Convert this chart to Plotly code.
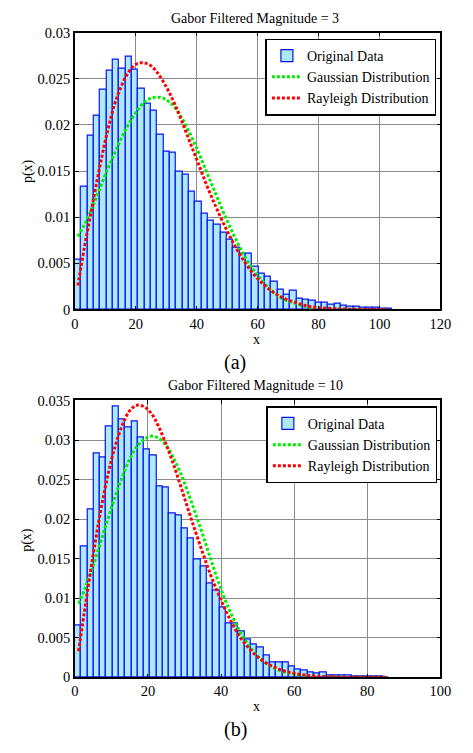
import plotly.graph_objects as go

# ---------------- data: panel (a) ----------------
bars_a = [0.00544, 0.01328, 0.01887, 0.02096, 0.02382, 0.0259, 0.02706, 0.02615, 0.02742, 0.02604,
          0.02392, 0.0223, 0.02155, 0.01894, 0.0171, 0.0170, 0.01498, 0.01456, 0.01276, 0.01166,
          0.01035, 0.00958, 0.00915, 0.00834, 0.00756, 0.00668, 0.00601, 0.00608, 0.00463, 0.00385,
          0.0036, 0.00304, 0.00219, 0.00156, 0.00201, 0.00113, 0.00103, 0.00092, 0.00078, 0.00078,
          0.00049, 0.00064, 0.00042, 0.00028, 0.00028, 0.00021, 0.0002, 0.00015, 0.0001, 0.00008]
bin_a = 2.08

gx_a = [1, 3, 5, 7, 9, 11, 13, 15, 17, 19, 21, 23, 25, 27, 29, 31, 33, 35, 37, 39, 41, 43, 45, 47,
        50, 53, 56, 59, 62, 65, 68, 72, 76, 80, 86, 94, 103]
gy_a = [0.0079, 0.0091, 0.0105, 0.0121, 0.0138, 0.0154, 0.0169, 0.0184, 0.0197, 0.0208, 0.0218,
        0.0225, 0.0229, 0.0230, 0.0229, 0.0225, 0.0218, 0.0208, 0.0196, 0.0182, 0.0167, 0.0151,
        0.0135, 0.0119, 0.0096, 0.0075, 0.0056, 0.0041, 0.0029, 0.0019, 0.0012, 0.0007, 0.0003,
        0.00015, 0.00004, 0.00001, 0.0]

rx_a = [1, 3, 5, 7, 9, 11, 13, 15, 17, 19, 21, 23, 25, 27, 29, 31, 33, 35, 37, 39, 41, 43, 45, 47,
        50, 53, 56, 59, 62, 65, 68, 72, 76, 80, 85, 90, 96, 103]
ry_a = [0.0026, 0.0065, 0.0100, 0.0135, 0.0168, 0.0197, 0.0222, 0.0240, 0.0254, 0.0263, 0.0267,
        0.0267, 0.0264, 0.0257, 0.0247, 0.0235, 0.0221, 0.0205, 0.0188, 0.0171, 0.0154, 0.0137,
        0.0121, 0.0106, 0.0085, 0.0066, 0.0050, 0.0037, 0.0027, 0.0019, 0.0013, 0.0008, 0.0004,
        0.0002, 0.0001, 0.00003, 0.00001, 0.0]

# ---------------- data: panel (b) ----------------
bars_b = [0.00655, 0.01657, 0.02119, 0.02824, 0.02779, 0.0317, 0.03422, 0.03265, 0.03162, 0.03232,
          0.03026, 0.02886, 0.02811, 0.02415, 0.02395, 0.0207, 0.0205, 0.01884, 0.01752, 0.01492,
          0.01397, 0.01183, 0.01101, 0.00882, 0.0068, 0.0068, 0.00577, 0.00474, 0.00412, 0.00375,
          0.00276, 0.00194, 0.00182, 0.00194, 0.0014, 0.00103, 0.00083, 0.00062, 0.0005, 0.00062,
          0.00029, 0.00029, 0.00025, 0.0002, 0.00017, 0.00014, 0.0001, 0.00008, 0.00006, 0.00004]
bin_b = 1.72

gx_b = [1, 3, 5, 7, 9, 11, 13, 15, 17, 19, 21, 23, 25, 27, 29, 31, 33, 35, 37, 39, 41, 43, 45, 47,
        49, 51, 54, 57, 60, 64, 68, 74, 80, 85]
gy_b = [0.0093, 0.0115, 0.0141, 0.0170, 0.0200, 0.0228, 0.0254, 0.0276, 0.0292, 0.0301, 0.0305,
        0.0302, 0.0293, 0.0277, 0.0257, 0.0233, 0.0207, 0.0180, 0.0152, 0.0124, 0.0099, 0.0078,
        0.0059, 0.0044, 0.0032, 0.0022, 0.0013, 0.0007, 0.0004, 0.00015, 0.00005, 0.00001, 0.0, 0.0]

rx_b = [1, 3, 5, 7, 9, 11, 13, 15, 17, 19, 21, 23, 25, 27, 29, 31, 33, 35, 37, 39, 41, 43, 45, 47,
        49, 52, 55, 58, 62, 66, 72, 78, 85]
ry_b = [0.0033, 0.0095, 0.0155, 0.0209, 0.0255, 0.0292, 0.0319, 0.0337, 0.0344, 0.0342, 0.0333,
        0.0316, 0.0294, 0.0269, 0.0241, 0.0212, 0.0184, 0.0157, 0.0131, 0.0108, 0.0087, 0.0068,
        0.0052, 0.0040, 0.0030, 0.0019, 0.0012, 0.0007, 0.00035, 0.00015, 0.00004, 0.00001, 0.0]

xticks_a = [0, 20, 40, 60, 80, 100, 120]
yticks_a = [0, 0.005, 0.01, 0.015, 0.02, 0.025, 0.03]
yticklabels_a = ["0", "0.005", "0.01", "0.015", "0.02", "0.025", "0.03"]
xticks_b = [0, 20, 40, 60, 80, 100]
yticks_b = [0, 0.005, 0.01, 0.015, 0.02, 0.025, 0.03, 0.035]
yticklabels_b = ["0", "0.005", "0.01", "0.015", "0.02", "0.025", "0.03", "0.035"]

names = ["Original Data", "Gaussian Distribution", "Rayleigh Distribution"]
titles = ["Gabor Filtered Magnitude = 3", "Gabor Filtered Magnitude = 10"]

FONT = "Liberation Serif"
# page body has an 8px default margin: size the figure so the page does not overflow
OFF = 8
W, H = 473 - 2 * OFF, 753 - 2 * OFF
BAR_FILL = "#aee8fb"
BAR_EDGE = "#0a14f0"
DOT = "3px,2px"

def px_x(x):
    return (x - OFF) / W

def px_y(y):
    return 1 - (y - OFF) / H

fig = go.Figure()

def add_panel(bars, bw, gx, gy, rx, ry, xa, ya, leg):
    fig.add_trace(go.Bar(y=bars, x0=bw / 2, dx=bw, name=names[0], xaxis=xa, yaxis=ya,
                         marker=dict(color=BAR_FILL, line=dict(color=BAR_EDGE, width=1.2)),
                         legend=leg))
    fig.add_trace(go.Scatter(x=gx, y=gy, mode="lines", name=names[1], xaxis=xa, yaxis=ya,
                             line=dict(color="#00ee00", width=3, dash=DOT, shape="spline"),
                             legend=leg))
    fig.add_trace(go.Scatter(x=rx, y=ry, mode="lines", name=names[2], xaxis=xa, yaxis=ya,
                             line=dict(color="#ff0000", width=3, dash=DOT, shape="spline"),
                             legend=leg))

add_panel(bars_a, bin_a, gx_a, gy_a, rx_a, ry_a, "x", "y", "legend")
add_panel(bars_b, bin_b, gx_b, gy_b, rx_b, ry_b, "x2", "y2", "legend2")

L, R = 73, 451

axis_common = dict(showline=True, linecolor="black", linewidth=1.5, mirror="allticks",
                   ticks="inside", ticklen=4, tickcolor="black",
                   showgrid=True, gridcolor="#8c8c8c", gridwidth=1, zeroline=False,
                   tickfont=dict(family=FONT, size=14.5, color="black"))

legend_common = dict(xanchor="left", yanchor="top", bgcolor="white", bordercolor="black",
                     borderwidth=1.5, font=dict(family=FONT, size=14, color="black"),
                     tracegroupgap=0, itemwidth=30)

fig.update_layout(
    width=W, height=H,
    margin=dict(l=0, r=0, t=0, b=0),
    paper_bgcolor="white", plot_bgcolor="white",
    bargap=0,
    showlegend=True,
    xaxis=dict(domain=[px_x(L), px_x(R)], range=[0, 120], tickvals=xticks_a, anchor="y", **axis_common),
    yaxis=dict(domain=[px_y(308), px_y(25)], range=[0, 0.03], tickvals=yticks_a,
               ticktext=yticklabels_a, anchor="x", **axis_common),
    xaxis2=dict(domain=[px_x(L), px_x(R)], range=[0, 100], tickvals=xticks_b, anchor="y2", **axis_common),
    yaxis2=dict(domain=[px_y(684), px_y(401)], range=[0, 0.035], tickvals=yticks_b,
                ticktext=yticklabels_b, anchor="x2", **axis_common),
    legend=dict(x=px_x(270), y=px_y(31), **legend_common),
    legend2=dict(x=px_x(271), y=px_y(407), **legend_common),
)

def ann(text, x, y, size, angle=0):
    fig.add_annotation(text=text, x=px_x(x), y=px_y(y), xref="paper", yref="paper",
                       showarrow=False, textangle=angle,
                       font=dict(family=FONT, size=size, color="black"),
                       xanchor="center", yanchor="middle")

ann(titles[0], 259, 11, 14)
ann(titles[1], 260, 386, 14)
ann("p(x)", 24, 166, 14, -90)
ann("p(x)", 24, 543, 14, -90)
ann("x", 261, 339, 14)
ann("x", 261, 714, 14)
ann("(a)", 239, 362, 20)
ann("(b)", 239, 737, 20)

fig.write_html("out.html")
